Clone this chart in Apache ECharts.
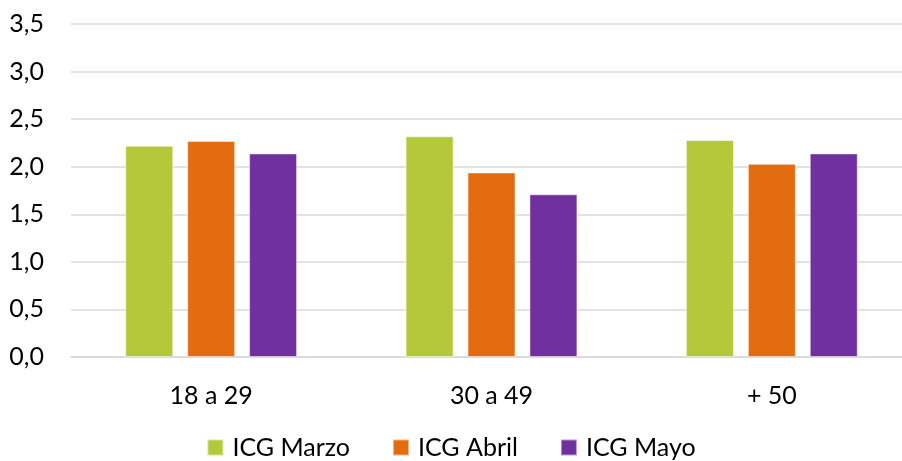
<!DOCTYPE html>
<html>
<head>
<meta charset="utf-8">
<script src="https://cdn.jsdelivr.net/npm/echarts@6/dist/echarts.min.js"></script>
<style>html,body{margin:0;padding:0;background:#fff}#c{width:902px;height:461px}</style>
</head>
<body>
<div id="c"></div>
<script>
const categories = ['18 a 29', '30 a 49', '+ 50'];
const seriesNames = ['ICG Marzo', 'ICG Abril', 'ICG Mayo'];
const marzo = [2.22, 2.32, 2.28];
const abril = [2.27, 1.94, 2.03];
const mayo = [2.14, 1.71, 2.14];
const yTicks = [0, 0.5, 1, 1.5, 2, 2.5, 3, 3.5];
const colors = ['#B4C939', '#E36C10', '#7030A0'];

const chart = echarts.init(document.getElementById('c'), null, {renderer: 'canvas'});
const font = 'Lato, "Noto Sans", sans-serif';
const values = [marzo, abril, mayo];
chart.setOption({
  animation: false,
  color: colors,
  grid: {left: 71, top: 24, width: 841, bottom: 104, containLabel: false, outerBoundsMode: 'none'},
  xAxis: {
    type: 'category', data: categories,
    axisLine: {lineStyle: {color: '#d9d9d9', width: 1.5}},
    axisTick: {show: false},
    axisLabel: {color: '#000', fontFamily: font, fontSize: 25, margin: 26}
  },
  yAxis: {
    type: 'value', min: yTicks[0], max: yTicks[yTicks.length - 1], interval: 0.5,
    axisLine: {show: false}, axisTick: {show: false},
    splitLine: {lineStyle: {color: '#d9d9d9', width: 1.5}},
    axisLabel: {color: '#000', fontFamily: font, fontSize: 25, margin: 27,
      formatter: v => v.toFixed(1).replace('.', ',')}
  },
  legend: {
    top: 430, left: 'center', itemWidth: 16, itemHeight: 16, itemGap: 42,
    icon: 'rect',
    textStyle: {color: '#000', fontFamily: font, fontSize: 25, padding: [0, 0, 0, 4]},
    data: seriesNames
  },
  series: seriesNames.map((n, i) => ({
    name: n, type: 'bar', data: values[i], barWidth: 48, barGap: '29%',
    itemStyle: {borderColor: 'rgba(255,255,255,0.5)', borderWidth: 1}
  }))
});
</script>
</body>
</html>
